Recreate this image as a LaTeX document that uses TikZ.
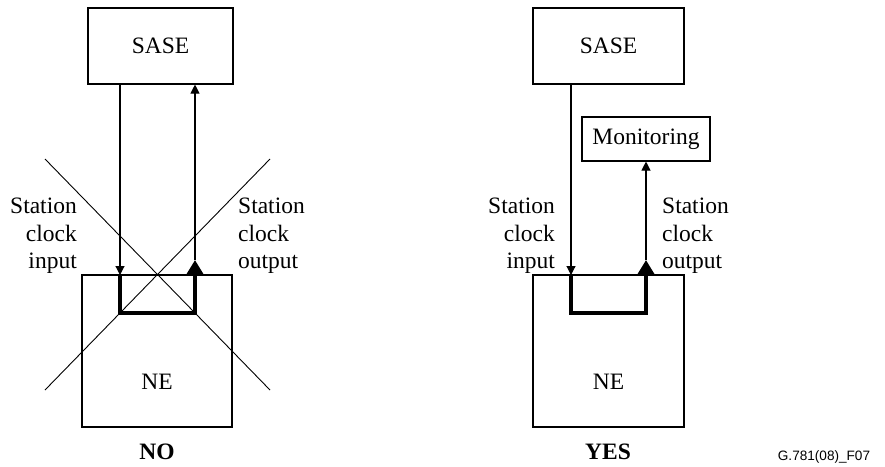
\documentclass[tikz,border=0pt]{standalone}
\usepackage{fontspec}
\setmainfont{Liberation Serif}
\newfontfamily\figfont{Liberation Sans}
\usetikzlibrary{arrows.meta}
\begin{document}
\begin{tikzpicture}[x=1pt,y=-1pt,
    every node/.style={font=\fontsize{23.5}{27.5}\selectfont},
    box/.style={draw=black,line width=1.1pt,inner sep=0pt},
    lbl/.style={inner sep=0pt},
    sig/.style={line width=1.1pt,-{Triangle[length=9pt,width=9pt]}},
    loop/.style={line width=4pt,-{Triangle[length=15pt,width=17pt]}},
    cross/.style={line width=0.9pt}]
      \useasboundingbox (0,0) rectangle (885,466);

      \node[box,minimum width=145pt,minimum height=76pt] (S1) at (160.5,46) {SASE};
      \node[box,minimum width=150pt,minimum height=152pt] (N1) at (157,351) {};
      \node[lbl] (T1) at (157,382) {NE};

      \node[box,minimum width=151pt,minimum height=76pt] (S2) at (608.5,46) {SASE};
      \node[box,minimum width=151pt,minimum height=152pt] (N2) at (608.5,351) {};
      \node[lbl] (T2) at (608.5,382) {NE};
      \node[box,minimum width=128pt,minimum height=44pt] (M) at (646,139) {Monitoring};

      \node[lbl,anchor=east,align=right] (I1) at (77,236) {Station\\clock\\input};
      \node[lbl,anchor=west,align=left] (O1) at (238,236) {Station\\clock\\output};
      \node[lbl,anchor=east,align=right] (I2) at (555,236) {Station\\clock\\input};
      \node[lbl,anchor=west,align=left] (O2) at (662,236) {Station\\clock\\output};

      \node[lbl,font=\fontsize{23.5}{27.5}\selectfont\bfseries] (NO) at (157,452) {NO};
      \node[lbl,font=\fontsize{23.5}{27.5}\selectfont\bfseries] (YES) at (608,452) {YES};
      \node[lbl,font=\figfont\fontsize{13.6}{16}\selectfont] (F) at (824,457) {G.781(08)\_F07};

      \coordinate (i1) at (120,275);
      \coordinate (a1) at (120,313);
      \coordinate (b1) at (195,313);
      \coordinate (o1) at (195,260);

      \coordinate (i2) at (571,275);
      \coordinate (a2) at (571,313);
      \coordinate (b2) at (646,313);
      \coordinate (o2) at (646,260);

      \draw[sig] (S1.south -| i1) -- (i1);
      \draw[loop] (i1) -- (a1) -- (b1) -- (o1);
      \draw[sig] (o1) -- (S1.south -| o1);

      \draw[sig] (S2.south -| i2) -- (i2);
      \draw[loop] (i2) -- (a2) -- (b2) -- (o2);
      \draw[sig] (o2) -- (M.south);

      \draw[cross] (45,159) -- (270,390);
      \draw[cross] (45,390) -- (270,159);
  \end{tikzpicture}
\end{document}
